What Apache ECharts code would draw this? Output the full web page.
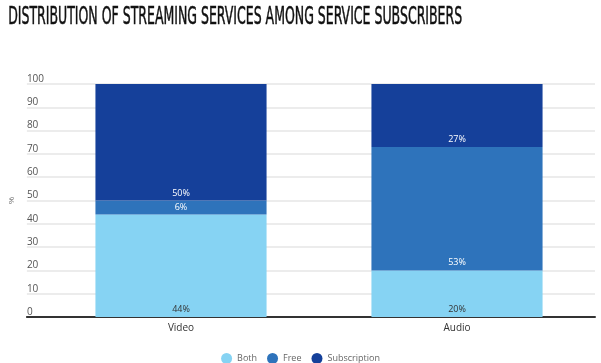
<!DOCTYPE html>
<html><head><meta charset="utf-8">
<script src="https://cdn.jsdelivr.net/npm/echarts@6/dist/echarts.min.js"></script>
<style>html,body{margin:0;padding:0;background:#fff}#c{width:601px;height:363px}</style>
</head><body><div id="c"></div>
<script>
var titleText = 'DISTRIBUTION OF STREAMING SERVICES AMONG SERVICE SUBSCRIBERS';
var categories = ['Video', 'Audio'];
var seriesNames = ['Both', 'Free', 'Subscription'];
var bothValues = [44, 20];
var freeValues = [6, 53];
var subscriptionValues = [50, 27];
var yTicks = [0, 10, 20, 30, 40, 50, 60, 70, 80, 90, 100];

var titleFont = '24px "Liberation Sans Narrow", "DejaVu Sans Condensed", sans-serif';
var cv = document.createElement('canvas').getContext('2d');
cv.font = titleFont;
var tw = cv.measureText(titleText).width;
var sx = 454 / tw;

var chart = echarts.init(document.getElementById('c'), null, {renderer: 'canvas'});
var colors = ['#86d3f3', '#2e73bb', '#15409a'];
var labelColors = ['#333', '#fff', '#fff'];
var vals = [bothValues, freeValues, subscriptionValues];

chart.setOption({
  animation: false,
  color: colors,
  graphic: [{
    type: 'text', left: 8, top: 6, scaleX: sx,
    style: {text: titleText, font: titleFont, fill: '#111', stroke: '#111', lineWidth: 0.5}
  }],
  legend: {
    top: 348, left: 'center', icon: 'circle', itemWidth: 11, itemHeight: 11, itemGap: 10,
    textStyle: {color: '#666', fontSize: 9, fontFamily: 'Open Sans'},
    data: seriesNames
  },
  grid: [
    {left: 26, right: 6, top: 84, bottom: 46},
    {left: 43, right: 6, top: 84, bottom: 46}
  ],
  xAxis: [
    {gridIndex: 0, type: 'category', data: [''], axisTick: {show: false}, axisLabel: {show: false},
      axisLine: {show: true, lineStyle: {color: '#333', width: 2}}},
    {gridIndex: 1, type: 'category', data: categories, axisTick: {show: false}, axisLine: {show: false},
      axisLabel: {color: '#333', fontSize: 10, margin: 6, fontFamily: 'Open Sans'}}
  ],
  yAxis: [
    {gridIndex: 0, type: 'value', min: 0, max: 100, interval: 10,
      name: '%', nameLocation: 'middle', nameGap: 7, nameRotate: 90,
      nameTextStyle: {color: '#666', fontSize: 8},
      axisLine: {show: false}, axisTick: {show: false},
      axisLabel: {inside: true, margin: 0, verticalAlign: 'bottom', color: '#555', fontSize: 10, fontFamily: 'Open Sans',
        formatter: function (v) { return yTicks.indexOf(v) >= 0 ? String(v) : ''; }},
      splitLine: {lineStyle: {color: '#e6e6e6', width: 1.5}}},
    {gridIndex: 1, type: 'value', min: 0, max: 100, show: false}
  ],
  series: seriesNames.map(function (n, i) {
    return {
      name: n, type: 'bar', stack: 'total', xAxisIndex: 1, yAxisIndex: 1,
      barWidth: '62%', data: vals[i],
      label: {show: true, position: 'insideBottom', distance: 3, formatter: '{c}%', color: labelColors[i], fontSize: 9, fontFamily: 'Open Sans'}
    };
  })
});
</script></body></html>
